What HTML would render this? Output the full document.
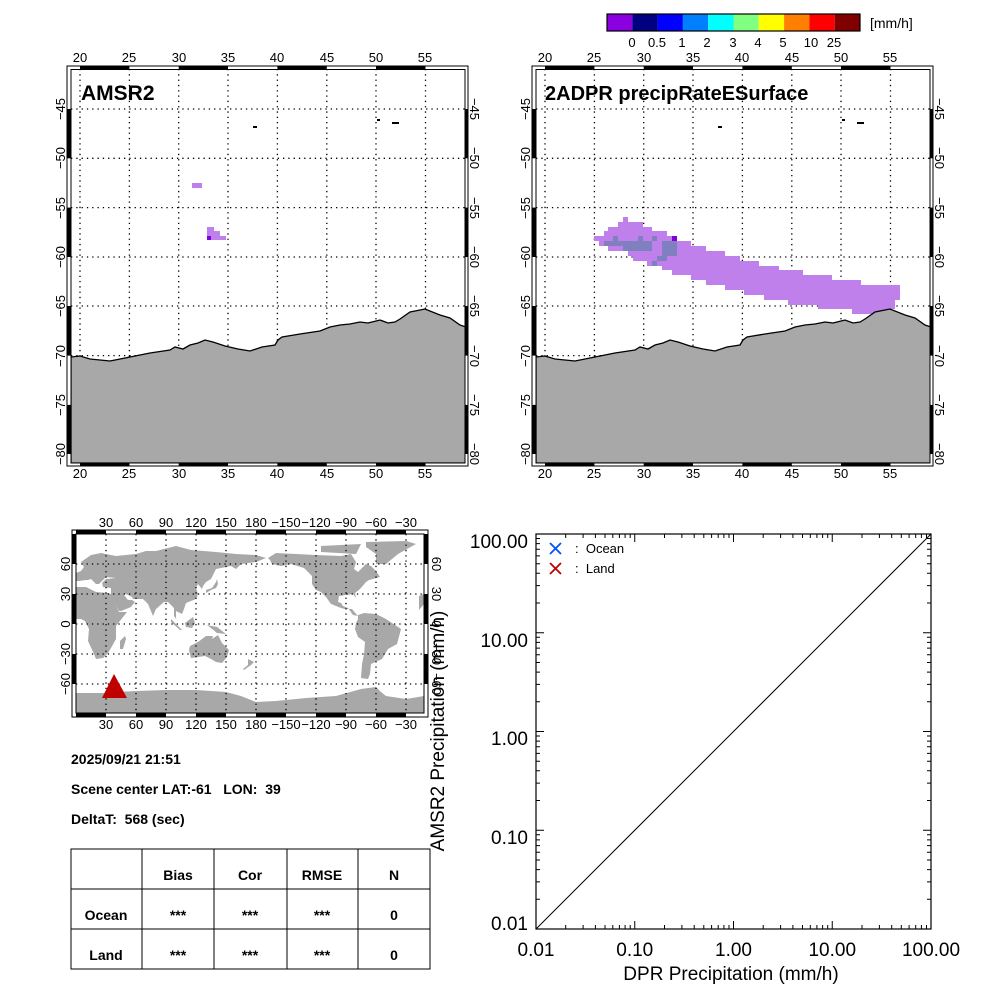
<!DOCTYPE html>
<html><head><meta charset="utf-8"><style>
html,body{margin:0;padding:0;background:#fff;}
svg{display:block;font-family:"Liberation Sans",sans-serif;}
.t{font-size:13px;fill:#000;}
.b{font-weight:bold;fill:#000;}
.g{stroke:#000;stroke-width:1.3;stroke-dasharray:1.3 4;fill:none;}
</style></head><body>
<svg width="1000" height="1000" viewBox="0 0 1000 1000" xmlns="http://www.w3.org/2000/svg">
<defs>
<clipPath id="cR"><rect x="71" y="69" width="394" height="394"/></clipPath>
<clipPath id="cW"><rect x="76" y="534" width="348" height="179"/></clipPath>
<g id="coast">
<polygon fill="#a8a8a8" stroke="#000" stroke-width="1.3" points="71,357 80,356 90,359 110,361 130,357 150,353 170,350 175,347 183,349 190,345 198,343 205,340 213,342 225,346 238,349 250,351 262,347 275,345 278,340 282,337 300,334 320,331 330,327 340,325 350,324 360,322 368,323 372,322 380,320 388,323 395,322 400,319 410,312 425,309 440,315 450,318 460,325 466,327 466,463 71,463"/>
<rect x="253" y="126" width="4" height="2" fill="#000"/>
<rect x="377" y="119" width="3" height="2" fill="#000"/>
<rect x="392" y="122" width="7" height="2" fill="#000"/>
</g>
<g id="grid">
<path class="g" d="M80,69V463M129.4,69V463M178.7,69V463M228,69V463M277.4,69V463M326.8,69V463M376,69V463M425.5,69V463M71,109H465M71,158.3H465M71,207.6H465M71,257H465M71,306H465M71,355.6H465M71,404.9H465M71,454H465"/>
</g>
<g id="frame">
<rect x="67" y="66" width="401" height="400" fill="none" stroke="#000" stroke-width="1"/>
<rect x="71" y="69.5" width="394" height="393.5" fill="none" stroke="#000" stroke-width="1"/>
<g fill="#000">
<rect x="80" y="66" width="49.4" height="3.5"/><rect x="178.7" y="66" width="49.3" height="3.5"/><rect x="277.4" y="66" width="49.4" height="3.5"/><rect x="376" y="66" width="49.5" height="3.5"/>
<rect x="80" y="463" width="49.4" height="3"/><rect x="178.7" y="463" width="49.3" height="3"/><rect x="277.4" y="463" width="49.4" height="3"/><rect x="376" y="463" width="49.5" height="3"/>
<rect x="67" y="109" width="4" height="49.3"/><rect x="67" y="207.6" width="4" height="49.4"/><rect x="67" y="306" width="4" height="49.6"/><rect x="67" y="404.9" width="4" height="49.1"/>
<rect x="465" y="109" width="3" height="49.3"/><rect x="465" y="207.6" width="3" height="49.4"/><rect x="465" y="306" width="3" height="49.6"/><rect x="465" y="404.9" width="3" height="49.1"/>
</g>
<g class="t" text-anchor="middle">
<text x="80" y="62">20</text><text x="129" y="62">25</text><text x="179" y="62">30</text><text x="228" y="62">35</text><text x="277" y="62">40</text><text x="327" y="62">45</text><text x="376" y="62">50</text><text x="425" y="62">55</text>
<text x="80" y="478">20</text><text x="129" y="478">25</text><text x="179" y="478">30</text><text x="228" y="478">35</text><text x="277" y="478">40</text><text x="327" y="478">45</text><text x="376" y="478">50</text><text x="425" y="478">55</text>
<text transform="translate(65,109) rotate(-90)">−45</text><text transform="translate(65,158) rotate(-90)">−50</text><text transform="translate(65,208) rotate(-90)">−55</text><text transform="translate(65,257) rotate(-90)">−60</text><text transform="translate(65,306) rotate(-90)">−65</text><text transform="translate(65,356) rotate(-90)">−70</text><text transform="translate(65,405) rotate(-90)">−75</text><text transform="translate(65,454) rotate(-90)">−80</text>
<text transform="translate(470,109) rotate(90)">−45</text><text transform="translate(470,158) rotate(90)">−50</text><text transform="translate(470,208) rotate(90)">−55</text><text transform="translate(470,257) rotate(90)">−60</text><text transform="translate(470,306) rotate(90)">−65</text><text transform="translate(470,356) rotate(90)">−70</text><text transform="translate(470,405) rotate(90)">−75</text><text transform="translate(470,454) rotate(90)">−80</text>
</g>
</g>
</defs>

<!-- Colorbar -->
<g>
<rect x="607" y="14" width="25.3" height="17" fill="#8a00e0"/>
<rect x="632.3" y="14" width="25.3" height="17" fill="#000080"/>
<rect x="657.6" y="14" width="25.3" height="17" fill="#0000ff"/>
<rect x="682.9" y="14" width="25.3" height="17" fill="#0080ff"/>
<rect x="708.2" y="14" width="25.3" height="17" fill="#00ffff"/>
<rect x="733.5" y="14" width="25.3" height="17" fill="#80ff80"/>
<rect x="758.8" y="14" width="25.3" height="17" fill="#ffff00"/>
<rect x="784.1" y="14" width="25.3" height="17" fill="#ff8000"/>
<rect x="809.4" y="14" width="25.3" height="17" fill="#ff0000"/>
<rect x="834.7" y="14" width="25.3" height="17" fill="#800000"/>
<rect x="607" y="14" width="253" height="17" fill="none" stroke="#000" stroke-width="1.2"/>
<g class="t" text-anchor="middle">
<text x="632" y="47">0</text><text x="657" y="47">0.5</text><text x="682" y="47">1</text><text x="707" y="47">2</text><text x="733" y="47">3</text><text x="758" y="47">4</text><text x="783" y="47">5</text><text x="811" y="47">10</text><text x="834" y="47">25</text>
</g>
<text class="t" x="870" y="28" style="font-size:14px">[mm/h]</text>
</g>

<!-- Left map -->
<g clip-path="url(#cR)">
<use href="#grid"/>
<g fill="#c080ec">
<rect x="192" y="183" width="10" height="5"/>
<rect x="207" y="227" width="7" height="9"/>
<rect x="214" y="231" width="6" height="5"/>
<rect x="207" y="236" width="19" height="4"/>
</g>
<rect x="207" y="236" width="4" height="4" fill="#8000e0"/>
<use href="#coast"/>
</g>
<use href="#frame"/>
<text class="b" x="81" y="100" style="font-size:21px">AMSR2</text>

<!-- Right map -->
<g transform="translate(465,0)">
<g clip-path="url(#cR)">
<use href="#grid"/>
</g>
</g>
<g fill="#c080ec">
<rect x="623" y="217" width="5" height="5"/>
<rect x="618" y="222" width="25" height="5"/>
<rect x="608" y="227" width="44" height="4"/>
<rect x="604" y="231" width="63" height="5"/>
<rect x="594" y="236" width="83" height="5"/>
<rect x="599" y="241" width="92" height="5"/>
<rect x="608" y="246" width="98" height="5"/>
<rect x="628" y="251" width="97" height="5"/>
<rect x="633" y="256" width="107" height="5"/>
<rect x="647" y="261" width="112" height="5"/>
<rect x="662" y="266" width="117" height="4"/>
<rect x="672" y="270" width="131" height="5"/>
<rect x="691" y="275" width="141" height="5"/>
<rect x="706" y="280" width="155" height="5"/>
<rect x="725" y="285" width="175" height="5"/>
<rect x="744" y="290" width="156" height="5"/>
<rect x="764" y="295" width="136" height="5"/>
<rect x="788" y="300" width="107" height="5"/>
<rect x="818" y="305" width="77" height="4"/>
<rect x="852" y="309" width="38" height="5"/>
</g>
<g fill="#8080c0">
<rect x="604" y="241" width="48" height="5"/>
<rect x="623" y="246" width="29" height="5"/>
<rect x="613" y="236" width="5" height="5"/>
<rect x="638" y="236" width="5" height="5"/>
<rect x="652" y="236" width="5" height="5"/>
<rect x="662" y="241" width="15" height="15"/>
<rect x="657" y="256" width="10" height="5"/>
<rect x="652" y="261" width="5" height="5"/>
</g>
<rect x="672" y="236" width="5" height="5" fill="#8000e0"/>
<g transform="translate(465,0)">
<g clip-path="url(#cR)"><use href="#coast"/></g>
<use href="#frame"/>
</g>
<text class="b" x="545" y="100" style="font-size:20px">2ADPR precipRateESurface</text>

<!-- World map -->
<g clip-path="url(#cW)">
<g fill="#a8a8a8" transform="translate(76,624) scale(1,-1)">
<polygon points="0,37 10,37 20,32 32,31 35,30 43,12 51,12 40,-2 40,-15 35,-24 32,-29 27,-34 20,-35 18,-30 12,-17 13,-5 9,3 5,5 0,5"/>
<polygon points="44,-25 47,-25 50,-15 49,-12 44,-17"/>
<polygon points="0,43 0,51 5,53 8,57 5,62 15,69 25,71 40,68 60,70 70,73 80,73 100,78 115,74 140,72 160,70 180,69 190,66 180,62 165,60 160,55 155,58 140,55 135,45 130,42 127,38 126,35 122,40 120,36 122,30 120,25 110,21 108,15 106,10 100,13 100,5 103,1 98,8 98,16 92,22 88,22 80,15 77,8 72,20 67,25 57,25 56,27 50,30 48,29 52,24 56,24 59,22 55,17 45,13 43,13 35,28 35,36 27,37 26,41 30,45 40,46 30,47 23,40 20,40 15,45 12,44 10,44 3,43"/>
<polygon points="130,31 135,34 140,36 142,40 141,45 140,42 136,36 130,34"/>
<polygon points="114,-22 122,-18 130,-12 137,-12 136,-15 142,-11 146,-19 153,-26 151,-33 146,-39 140,-38 135,-35 129,-32 115,-34 113,-26"/>
<polygon points="172,-35 178,-38 175,-41 168,-46 167,-45 172,-41"/>
<polygon points="109,1 117,7 119,1 116,-4 110,-3"/>
<polygon points="95,5 106,-6 104,-6 95,2"/>
<polygon points="131,-1 141,-3 150,-10 141,-9 135,-4"/>
<polygon points="192,66 200,71 220,70 240,69 265,68 275,70 280,62 278,55 282,52 290,60 295,58 300,53 304,47 293,44 290,42 284,35 279,31 280,26 277,30 270,29 263,28 262,22 265,21 267,18 272,16 277,9 282,8 281,9 276,15 269,15 265,16 255,20 250,27 245,32 240,34 236,40 236,48 228,56 215,60 205,58 196,60 194,64"/>
<polygon points="300,60 310,60 322,70 340,80 330,83 290,82 290,77 300,70"/>
<polygon points="245,72 280,70 285,80 245,78"/>
<polygon points="282,9 288,11 300,10 310,5 325,-5 321,-20 312,-25 306,-35 295,-40 294,-50 292,-55 285,-54 286,-40 288,-30 289,-18 282,-13 279,-5 280,1 282,5"/>
<polygon points="343,14 348,20 348,30 343,28"/>
<polygon points="0,-69 30,-69 40,-68 60,-67 90,-66 120,-66 150,-68 165,-72 180,-78 200,-77 230,-74 260,-72 285,-65 300,-63 305,-68 310,-72 330,-75 348,-72 348,-95 0,-95"/>
</g>
<path class="g" d="M106,534V713M136,534V713M166,534V713M196,534V713M226,534V713M256,534V713M286,534V713M316,534V713M346,534V713M376,534V713M406,534V713M76,564H424M76,594H424M76,624H424M76,654H424M76,684H424"/>
</g>
<polygon points="114,674 102,698 127,698" fill="#c00000"/>
<rect x="72" y="530" width="356" height="187" fill="none" stroke="#000" stroke-width="1"/>
<rect x="76" y="534" width="348" height="179" fill="none" stroke="#000" stroke-width="1"/>
<g fill="#000">
<rect x="76" y="530" width="30" height="4"/><rect x="136" y="530" width="30" height="4"/><rect x="196" y="530" width="30" height="4"/><rect x="256" y="530" width="30" height="4"/><rect x="316" y="530" width="30" height="4"/><rect x="376" y="530" width="30" height="4"/>
<rect x="76" y="713" width="30" height="4"/><rect x="136" y="713" width="30" height="4"/><rect x="196" y="713" width="30" height="4"/><rect x="256" y="713" width="30" height="4"/><rect x="316" y="713" width="30" height="4"/><rect x="376" y="713" width="30" height="4"/>
<rect x="72" y="534" width="4" height="30"/><rect x="72" y="594" width="4" height="30"/><rect x="72" y="654" width="4" height="30"/>
<rect x="424" y="534" width="4" height="30"/><rect x="424" y="594" width="4" height="30"/><rect x="424" y="654" width="4" height="30"/>
</g>
<g class="t" text-anchor="middle">
<text x="106" y="527">30</text><text x="136" y="527">60</text><text x="166" y="527">90</text><text x="196" y="527">120</text><text x="226" y="527">150</text><text x="256" y="527">180</text><text x="286" y="527">−150</text><text x="316" y="527">−120</text><text x="346" y="527">−90</text><text x="376" y="527">−60</text><text x="406" y="527">−30</text>
<text x="106" y="729">30</text><text x="136" y="729">60</text><text x="166" y="729">90</text><text x="196" y="729">120</text><text x="226" y="729">150</text><text x="256" y="729">180</text><text x="286" y="729">−150</text><text x="316" y="729">−120</text><text x="346" y="729">−90</text><text x="376" y="729">−60</text><text x="406" y="729">−30</text>
<text transform="translate(70,564) rotate(-90)">60</text><text transform="translate(70,594) rotate(-90)">30</text><text transform="translate(70,624) rotate(-90)">0</text><text transform="translate(70,654) rotate(-90)">−30</text><text transform="translate(70,684) rotate(-90)">−60</text>
<text transform="translate(432,564) rotate(90)">60</text><text transform="translate(432,594) rotate(90)">30</text><text transform="translate(432,624) rotate(90)">0</text><text transform="translate(432,654) rotate(90)">−30</text><text transform="translate(432,684) rotate(90)">−60</text>
</g>

<!-- Info text -->
<g class="b" style="font-size:14px">
<text x="71" y="764">2025/09/21 21:51</text>
<text x="71" y="794">Scene center LAT:-61&#160;&#160;&#160;LON:&#160;&#160;39</text>
<text x="71" y="824">DeltaT:&#160;&#160;568 (sec)</text>
</g>
<g stroke="#000" stroke-width="1" fill="none">
<rect x="71" y="849" width="359" height="120"/>
<path d="M71,889H430M71,929H430M142,849V969M214,849V969M287,849V969M358,849V969"/>
</g>
<g class="b" style="font-size:14px" text-anchor="middle">
<text x="178" y="880">Bias</text><text x="250" y="880">Cor</text><text x="322" y="880">RMSE</text><text x="394" y="880">N</text>
<text x="106" y="920">Ocean</text><text x="178" y="920">***</text><text x="250" y="920">***</text><text x="322" y="920">***</text><text x="394" y="920">0</text>
<text x="106" y="960">Land</text><text x="178" y="960">***</text><text x="250" y="960">***</text><text x="322" y="960">***</text><text x="394" y="960">0</text>
</g>

<!-- Scatter -->
<rect x="536" y="534" width="395" height="395" fill="none" stroke="#000" stroke-width="1.2"/>
<line x1="536" y1="929" x2="931" y2="534" stroke="#000" stroke-width="1"/>
<path stroke="#000" stroke-width="1" fill="none" d="
M634.75,929v-8M733.5,929v-8M832.25,929v-8M634.75,534v8M733.5,534v8M832.25,534v8
M536,830.25h8M536,731.5h8M536,632.75h8M931,830.25h-8M931,731.5h-8M931,632.75h-8
M565.7,929v-4M583.1,929v-4M595.4,929v-4M605,929v-4M612.8,929v-4M619.4,929v-4M625.1,929v-4M630.2,929v-4
M664.5,929v-4M681.9,929v-4M694.2,929v-4M703.8,929v-4M711.6,929v-4M718.2,929v-4M723.9,929v-4M729,929v-4
M763.2,929v-4M780.6,929v-4M792.9,929v-4M802.5,929v-4M810.3,929v-4M816.9,929v-4M822.6,929v-4M827.7,929v-4
M862,929v-4M879.4,929v-4M891.7,929v-4M901.3,929v-4M909.1,929v-4M915.7,929v-4M921.4,929v-4M926.5,929v-4
M565.7,534v4M583.1,534v4M595.4,534v4M605,534v4M612.8,534v4M619.4,534v4M625.1,534v4M630.2,534v4
M664.5,534v4M681.9,534v4M694.2,534v4M703.8,534v4M711.6,534v4M718.2,534v4M723.9,534v4M729,534v4
M763.2,534v4M780.6,534v4M792.9,534v4M802.5,534v4M810.3,534v4M816.9,534v4M822.6,534v4M827.7,534v4
M862,534v4M879.4,534v4M891.7,534v4M901.3,534v4M909.1,534v4M915.7,534v4M921.4,534v4M926.5,534v4
M536,899.3h4M536,881.9h4M536,869.6h4M536,860h4M536,852.2h4M536,845.6h4M536,839.9h4M536,834.8h4
M536,800.5h4M536,783.1h4M536,770.8h4M536,761.2h4M536,753.4h4M536,746.8h4M536,741.1h4M536,736h4
M536,701.8h4M536,684.4h4M536,672.1h4M536,662.5h4M536,654.7h4M536,648.1h4M536,642.4h4M536,637.3h4
M536,603h4M536,585.6h4M536,573.3h4M536,563.7h4M536,555.9h4M536,549.3h4M536,543.6h4M536,538.5h4
M931,899.3h-4M931,881.9h-4M931,869.6h-4M931,860h-4M931,852.2h-4M931,845.6h-4M931,839.9h-4M931,834.8h-4
M931,800.5h-4M931,783.1h-4M931,770.8h-4M931,761.2h-4M931,753.4h-4M931,746.8h-4M931,741.1h-4M931,736h-4
M931,701.8h-4M931,684.4h-4M931,672.1h-4M931,662.5h-4M931,654.7h-4M931,648.1h-4M931,642.4h-4M931,637.3h-4
M931,603h-4M931,585.6h-4M931,573.3h-4M931,563.7h-4M931,555.9h-4M931,549.3h-4M931,543.6h-4M931,538.5h-4"/>
<g style="font-size:19px" fill="#000" text-anchor="end">
<text x="528" y="548">100.00</text><text x="528" y="647">10.00</text><text x="528" y="745">1.00</text><text x="528" y="844">0.10</text><text x="528" y="930">0.01</text>
</g>
<g style="font-size:19px" fill="#000" text-anchor="middle">
<text x="536" y="956">0.01</text><text x="634.75" y="956">0.10</text><text x="733.5" y="956">1.00</text><text x="832.25" y="956">10.00</text><text x="931" y="956">100.00</text>
<text x="731" y="980">DPR Precipitation (mm/h)</text>
<text transform="translate(444,731) rotate(-90)">AMSR2 Precipitation (mm/h)</text>
</g>
<path d="M550,543l11,11M561,543l-11,11" stroke="#0050ff" stroke-width="1.8"/>
<path d="M550,563l11,11M561,563l-11,11" stroke="#c00000" stroke-width="1.8"/>
<text x="575" y="553" style="font-size:13px">:&#160;&#160;Ocean</text>
<text x="575" y="573" style="font-size:13px">:&#160;&#160;Land</text>
</svg>
</body></html>
